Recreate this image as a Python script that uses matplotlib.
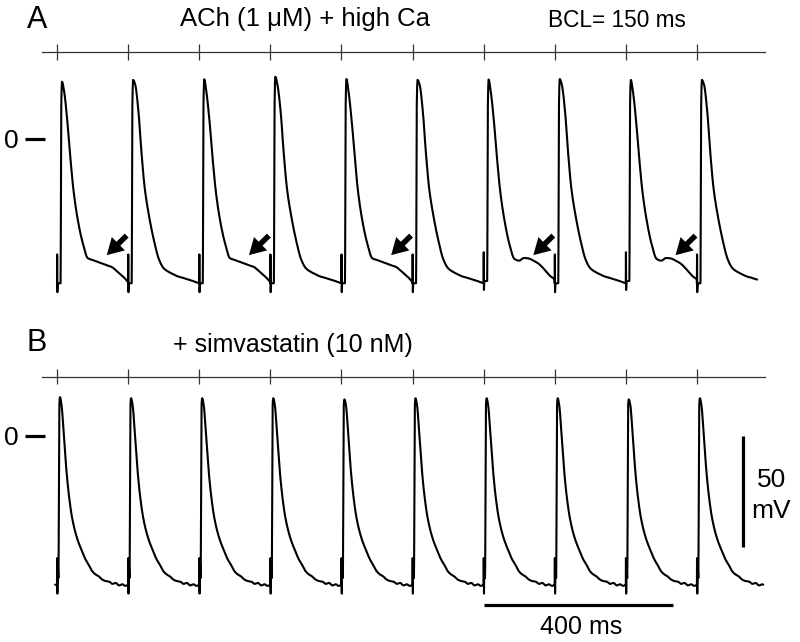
import numpy as np
import matplotlib
matplotlib.use("Agg")
import matplotlib.pyplot as plt

plt.rcParams['font.family'] = ['Liberation Sans', 'DejaVu Sans']

# ---------------- data ----------------
BCL = 150  # ms
STIM_TIMES = [0, 150, 300, 450, 600, 750, 900, 1050, 1200, 1350]

# Panel A one-beat templates (ms after stimulus, mV)
A_T = [0, 0.3, 0.7, 1.5, 7.5, 9.0, 10.5, 15, 22, 28, 35, 44, 54, 65, 75, 85, 95, 105, 115, 125, 133, 141, 150]
A_PLAIN = [-65, -52, -69, -65, -65, 15, 26.5, 24.5, 12, -5.5, -22, -34.5, -45.2, -54.2, -58.2, -59.8, -60.9, -61.9,
           -62.5, -63.2, -63.7, -64.3, -65]
A_DAD_SMALL = [-65, -52, -69, -65, -65, 15, 26.8, 21.5, 7.5, -8, -23.5, -36.6, -46.6, -53.7, -54.5, -55.3, -56.1,
               -56.9, -57.6, -59.3, -60.8, -62.3, -64.5]
A_DAD_LARGE = [-64, -51, -68, -64, -64, 15, 26.8, 21.5, 7.5, -8, -23.5, -36.6, -47, -54, -54.8, -53.6, -53.8, -54.8,
               -56, -58, -60, -61.8, -63.2]
A_PEAK_IDX = 6
A_KIND = ['dad_s', 'plain', 'dad_s', 'plain', 'dad_s', 'plain', 'dad_l', 'plain', 'dad_l', 'plain']
A_PEAKS = [25.8, 26.6, 26.9, 28.0, 27.0, 26.6, 26.8, 27.0, 26.6, 26.6]
A_LAST_END = 127  # ms after last stimulus
A_ARROW_BEATS = [0, 2, 4, 6, 8]
ARROW_HEAD = (105, -52.3)   # ms after stimulus, mV
ARROW_TAIL = (147, -43.5)

# Panel B one-beat template
B_T = [0, 0.3, 0.8, 1.5, 3.0, 5.0, 6.2, 9.5, 14.5, 19.5, 25, 32, 42, 53, 60, 67, 74, 81, 88, 95, 102, 110, 117,
       124, 131, 138, 144, 150]
B_V = [-67, -55, -71, -57, -64, 14, 16.7, 14, 0.5, -14.5, -26.5, -37, -45.8, -52, -55.5, -58, -60.8, -62.3, -63.2,
       -64.6, -65.3, -65.6, -66.6, -66.2, -67.3, -66.8, -67.5, -67.1]
B_PEAK_IDX = 6
B_PEAKS = [17.5, 17.0, 17.0, 17.0, 16.5, 17.0, 17.0, 17.0, 16.5, 17.0]
B_START = (-4, -67)
B_LAST_END = 140

SCALE_V = 50      # mV
SCALE_T = 400     # ms
SCALE_T_START = 900


# ---------------- build traces ----------------
def pchip(x, y, xn):
    x = np.asarray(x, float); y = np.asarray(y, float)
    h = np.diff(x); d = np.diff(y) / h
    m = np.zeros_like(y)
    m[0], m[-1] = d[0], d[-1]
    for k in range(1, len(x) - 1):
        if d[k - 1] * d[k] > 0:
            w1 = 2 * h[k] + h[k - 1]; w2 = h[k] + 2 * h[k - 1]
            m[k] = (w1 + w2) / (w1 / d[k - 1] + w2 / d[k])
    idx = np.clip(np.searchsorted(x, xn, side='right') - 1, 0, len(x) - 2)
    hk = h[idx]; s = (xn - x[idx]) / hk
    h00 = 2 * s**3 - 3 * s**2 + 1; h10 = s**3 - 2 * s**2 + s
    h01 = -2 * s**3 + 3 * s**2; h11 = s**3 - s**2
    return h00 * y[idx] + h10 * hk * m[idx] + h01 * y[idx + 1] + h11 * hk * m[idx + 1]


templates_A = {'plain': A_PLAIN, 'dad_s': A_DAD_SMALL, 'dad_l': A_DAD_LARGE}


def assemble(stims, T, templates, kinds, peaks, peak_idx, last_end, start=None):
    ts, vs = [], []
    if start is not None:
        ts.append(start[0]); vs.append(start[1])
    T = np.asarray(T, float)
    for i, s in enumerate(stims):
        v = np.array(templates[kinds[i]], float)
        v[peak_idx] = peaks[i]
        end = last_end if i == len(stims) - 1 else T[-1]
        fine = np.union1d(np.linspace(0, end, 400), T[T <= end])
        vf = pchip(T, v, fine)
        ts.extend(s + fine); vs.extend(vf)
    return np.array(ts), np.array(vs)


tA, vA = assemble(STIM_TIMES, A_T, templates_A, A_KIND, A_PEAKS, A_PEAK_IDX, A_LAST_END)
tB, vB = assemble(STIM_TIMES, B_T, {'b': B_V}, ['b'] * 10, B_PEAKS, B_PEAK_IDX, B_LAST_END, start=B_START)

# ---------------- figure ----------------
PX_PER_MS = 0.474
PX_PER_MV = 2.22
X0 = 57  # pixel of t=0

fig = plt.figure(figsize=(8.0, 6.42), dpi=100)
axA = fig.add_axes([0, 0.5, 1, 0.5])
axB = fig.add_axes([0, 0.0, 1, 0.5])

xlim = (-X0 / PX_PER_MS, (800 - X0) / PX_PER_MS)
axA.set_xlim(*xlim)
axB.set_xlim(*xlim)
axA.set_ylim((139 - 321) / PX_PER_MV, 139 / PX_PER_MV)
axB.set_ylim((436 - 642) / PX_PER_MV, (436 - 321) / PX_PER_MV)
for ax in (axA, axB):
    ax.axis('off')

trace_kw = dict(color='black', lw=1.5, solid_joinstyle='round', solid_capstyle='round')
axA.plot(tA, vA, **trace_kw)
axB.plot(tB, vB, **trace_kw)

# stimulus markers
line_start, line_end = (42 - X0) / PX_PER_MS, (765 - X0) / PX_PER_MS
for ax, vline in ((axA, 39.2), (axB, 26.8)):
    ax.plot([line_start, line_end], [vline, vline], color='#333333', lw=0.9)
    ax.vlines(STIM_TIMES, vline - 3.6, vline + 3.6, color='#333333', lw=0.9)

# arrows
for b in A_ARROW_BEATS:
    s = STIM_TIMES[b]
    axA.annotate('', xy=(s + ARROW_HEAD[0], ARROW_HEAD[1]), xytext=(s + ARROW_TAIL[0], ARROW_TAIL[1]),
                 arrowprops=dict(arrowstyle='simple,head_width=0.75,head_length=0.65,tail_width=0.22',
                                 mutation_scale=18, color='black', lw=0, shrinkA=0, shrinkB=0))

# zero markers
for ax in (axA, axB):
    ax.plot([(25 - X0) / PX_PER_MS, (45 - X0) / PX_PER_MS], [0, 0], color='black', lw=2.3, solid_capstyle='butt')
    ax.text((11.5 - X0) / PX_PER_MS, -0.9, '0', fontsize=19, ha='center', va='center')

# labels
axA.text((37 - X0) / PX_PER_MS, (139 - 20) / PX_PER_MV, 'A', fontsize=22, ha='center', va='center')
axA.text((180 - X0) / PX_PER_MS, (139 - 19) / PX_PER_MV, 'ACh (1 μM) + high Ca', fontsize=18.5,
         ha='left', va='center')
axA.text((548 - X0) / PX_PER_MS, (139 - 20.5) / PX_PER_MV, 'BCL= 150 ms', fontsize=16.3,
         ha='left', va='center')
axB.text((37 - X0) / PX_PER_MS, (436 - 343) / PX_PER_MV, 'B', fontsize=22, ha='center', va='center')
axB.text((173 - X0) / PX_PER_MS, (436 - 345) / PX_PER_MV, '+ simvastatin (10 nM)', fontsize=18,
         ha='left', va='center')

# scale bars
t_bar = (742.7 - X0) / PX_PER_MS
axB.plot([t_bar, t_bar], [0, -SCALE_V], color='black', lw=2.3, solid_capstyle='butt')
v_hbar = (436 - 605) / PX_PER_MV
axB.plot([SCALE_T_START, SCALE_T_START + SCALE_T], [v_hbar, v_hbar], color='black', lw=2.3,
         solid_capstyle='butt')
axB.text(SCALE_T_START + SCALE_T / 2 + 5, (436 - 627.5) / PX_PER_MV, f'{SCALE_T} ms', fontsize=18,
         ha='center', va='center')
axB.text((772 - X0) / PX_PER_MS, (436 - 480) / PX_PER_MV, f'{SCALE_V}', fontsize=19, ha='center', va='center')
axB.text((771.5 - X0) / PX_PER_MS, (436 - 511) / PX_PER_MV, 'mV', fontsize=19, ha='center', va='center')

fig.savefig('out.png', dpi=100)
